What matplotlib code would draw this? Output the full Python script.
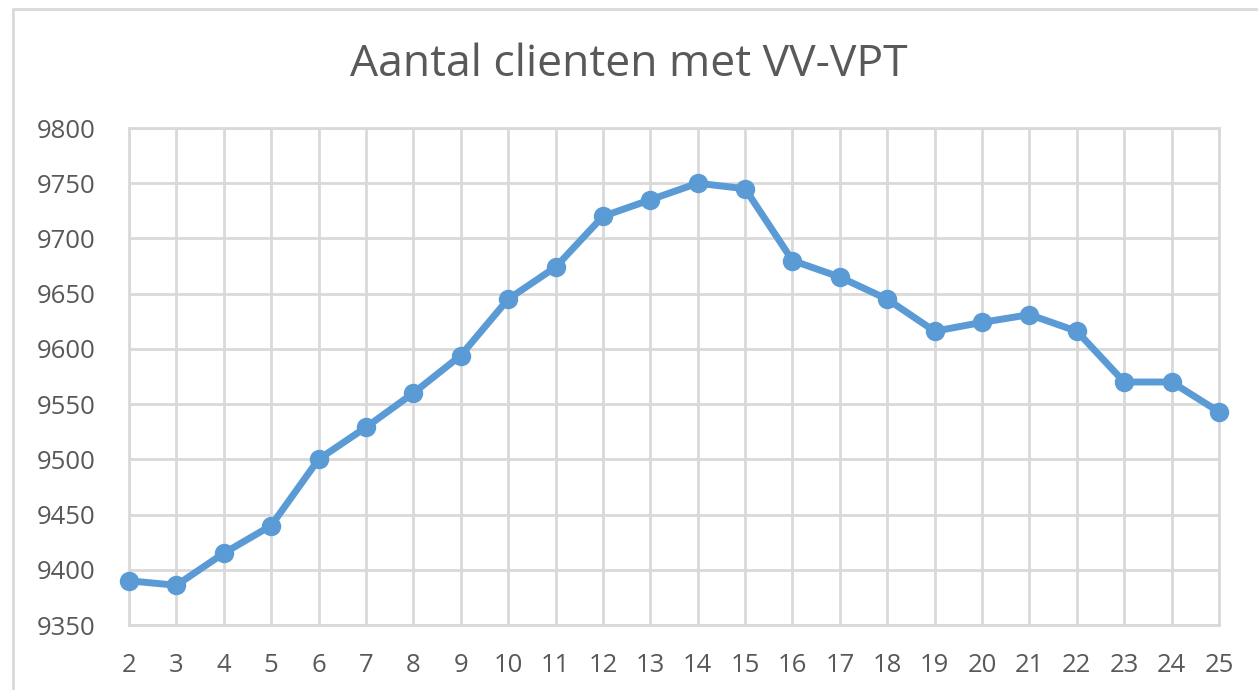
import matplotlib.pyplot as plt
from matplotlib.patches import Rectangle

# Weeks and number of clients
weeks = list(range(2, 26))
clients = [9390, 9386, 9415, 9440, 9500, 9529, 9560, 9594, 9645, 9674, 9720, 9735,
           9750, 9745, 9680, 9665, 9645, 9616, 9624, 9631, 9616, 9570, 9570, 9543]
y_ticks = [9350, 9400, 9450, 9500, 9550, 9600, 9650, 9700, 9750, 9800]

plt.rcParams['font.family'] = ['Open Sans', 'DejaVu Sans']

fig = plt.figure(figsize=(12.58, 6.90), dpi=100)
ax = fig.add_axes([129 / 1258, 1 - 625 / 690, (1219 - 129) / 1258, (625 - 128) / 690])

grid_color = '#D9D9D9'
text_color = '#595959'

ax.plot(weeks, clients, color='#5B9BD5', lw=5, marker='o', markersize=13,
        solid_capstyle='round', zorder=3, clip_on=False)

ax.set_xlim(weeks[0], weeks[-1])
ax.set_ylim(y_ticks[0], y_ticks[-1])
ax.set_xticks(weeks)
ax.set_yticks(y_ticks)
ax.grid(True, color=grid_color, lw=2)
ax.set_axisbelow(True)
for s in ax.spines.values():
    s.set_color(grid_color)
    s.set_linewidth(2)
ax.xaxis.set_tick_params(length=0, labelsize=18.5, labelcolor=text_color, pad=20)
ax.yaxis.set_tick_params(length=0, labelsize=18.5, labelcolor=text_color, pad=24)

fig.text(0.5, 1 - 65 / 690, 'Aantal clienten met VV-VPT', ha='center', va='center',
         fontsize=32, color=text_color)

# light chart border
fig.patches.append(Rectangle((13 / 1258, -0.05), 1.2, 1 - 9 / 690 + 0.05,
                             transform=fig.transFigure, fill=False,
                             edgecolor=grid_color, lw=2))

fig.savefig('out.png', dpi=100)
